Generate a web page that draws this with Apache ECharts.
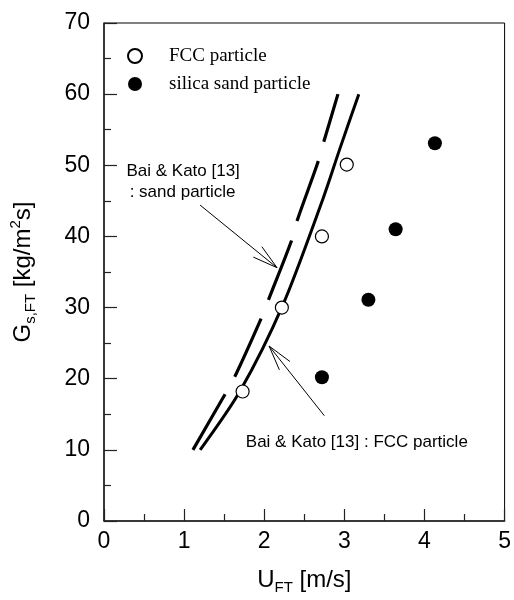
<!DOCTYPE html>
<html>
<head>
<meta charset="utf-8">
<script src="https://cdn.jsdelivr.net/npm/echarts@6.0.0/dist/echarts.min.js"></script>
<style>
  html, body { margin: 0; padding: 0; background: #fff; }
  #main { width: 514px; height: 600px; }
</style>
</head>
<body>
<div id="main"></div>
<script>
// measured points
const fccU = [1.73, 2.22, 2.72, 3.03]
const fccG = [18.2, 30.0, 40.0, 50.1]
const sandU = [2.72, 3.30, 3.64, 4.13]
const sandG = [20.2, 31.1, 41.0, 53.1]

// Bai & Kato [13] curves
const baiSandU = [1.11, 1.53, 1.65, 1.97, 2.06, 2.34, 2.41, 2.66, 2.73, 2.92]
const baiSandG = [10, 18.2, 20.7, 28.7, 31.3, 39.4, 42.2, 50.1, 52.8, 60]
const baiFccU = [1.20, 1.70, 2.23, 2.73, 2.94, 3.18]
const baiFccG = [10, 18.3, 30.3, 45.2, 52.2, 60]

// annotations (data coords)
const notes = [
  { text: 'Bai & Kato [13]', at: [0.28, 49.1] },
  { text: ': sand particle', at: [0.32, 46.2] },
  { text: 'Bai & Kato [13] : FCC particle', at: [1.77, 11.0] }
]
const arrows = [
  { from: [1.20, 44.4], to: [2.16, 35.6] },
  { from: [2.75, 14.8], to: [2.06, 24.6] }
]

function pairs (xs, ys) {
  return xs.map((x, i) => [x, ys[i]])
}

const chart = echarts.init(document.getElementById('main'))
chart.setOption({
  animation: false,
  backgroundColor: '#fff',
  grid: {
    left: 102, right: 5, top: 23, bottom: 77,
    show: true, borderColor: '#000', borderWidth: 1
  },
  legend: {
    orient: 'vertical',
    left: 122,
    top: 41,
    itemWidth: 14,
    itemHeight: 14,
    itemGap: 8,
    data: ['FCC particle', 'silica sand particle'],
    textStyle: {
      fontFamily: 'Liberation Serif',
      fontSize: 19,
      lineHeight: 20,
      color: '#000',
      padding: [0, 0, 0, 22]
    }
  },
  xAxis: {
    type: 'value',
    min: 0, max: 5, interval: 1,
    name: '{m|U}{sub|FT}{m| [m/s]}',
    nameLocation: 'middle',
    nameGap: 44,
    nameTextStyle: {
      rich: {
        m: { fontFamily: 'Liberation Sans', fontSize: 24, lineHeight: 30, color: '#000' },
        sub: { fontFamily: 'Liberation Sans', fontSize: 15, lineHeight: 15, verticalAlign: 'bottom', color: '#000' }
      }
    },
    axisLine: { onZero: false, lineStyle: { color: '#222', width: 1.5 } },
    axisTick: { inside: true, length: 12, lineStyle: { color: '#222', width: 1.2 } },
    minorTick: { show: true, splitNumber: 2, length: 7, lineStyle: { color: '#222', width: 1.2 } },
    axisLabel: { margin: 9, fontFamily: 'Liberation Sans', fontSize: 23, color: '#000' },
    splitLine: { show: false }
  },
  yAxis: {
    type: 'value',
    min: 0, max: 70, interval: 10,
    name: '{m|G}{sub|s,FT}{m| [kg/m}{sup|2}{m|s]}',
    nameLocation: 'middle',
    nameGap: 66,
    nameTextStyle: {
      rich: {
        m: { fontFamily: 'Liberation Sans', fontSize: 24, lineHeight: 30, color: '#000' },
        sub: { fontFamily: 'Liberation Sans', fontSize: 15, lineHeight: 15, verticalAlign: 'bottom', color: '#000' },
        sup: { fontFamily: 'Liberation Sans', fontSize: 15, lineHeight: 15, verticalAlign: 'top', color: '#000' }
      }
    },
    axisLine: { onZero: false, lineStyle: { color: '#222', width: 1.5 } },
    axisTick: { inside: true, length: 13, lineStyle: { color: '#222', width: 1.2 } },
    minorTick: { show: true, splitNumber: 2, length: 7, lineStyle: { color: '#222', width: 1.2 } },
    axisLabel: { margin: 14, fontFamily: 'Liberation Sans', fontSize: 23, color: '#000' },
    splitLine: { show: false }
  },
  series: [
    {
      name: 'Bai & Kato sand',
      type: 'line',
      smooth: 0.3,
      showSymbol: false,
      data: pairs(baiSandU, baiSandG),
      lineStyle: { color: '#000', width: 3.2, type: [64, 20] }
    },
    {
      name: 'Bai & Kato FCC',
      type: 'line',
      smooth: 0.3,
      showSymbol: false,
      data: pairs(baiFccU, baiFccG),
      lineStyle: { color: '#000', width: 3 }
    },
    {
      name: 'FCC particle',
      type: 'scatter',
      symbol: 'circle',
      symbolSize: 13,
      data: pairs(fccU, fccG),
      itemStyle: { color: '#fff', borderColor: '#000', borderWidth: 1.2, opacity: 1 },
      z: 5
    },
    {
      name: 'silica sand particle',
      type: 'scatter',
      symbol: 'circle',
      symbolSize: 14,
      data: pairs(sandU, sandG),
      itemStyle: { color: '#000', opacity: 1 },
      z: 5
    }
  ]
})

// text notes and arrows, placed through the axes
const graphics = []
notes.forEach(n => {
  const p = chart.convertToPixel({ gridIndex: 0 }, n.at)
  graphics.push({
    type: 'text',
    x: p[0], y: p[1],
    style: {
      text: n.text,
      font: '17px "Liberation Sans"',
      fill: '#000',
      textAlign: 'left',
      textVerticalAlign: 'middle'
    }
  })
})
arrows.forEach(a => {
  const s = chart.convertToPixel({ gridIndex: 0 }, a.from)
  const t = chart.convertToPixel({ gridIndex: 0 }, a.to)
  const ang = Math.atan2(s[1] - t[1], s[0] - t[0])
  const len = 26
  const spread = 15 * Math.PI / 180
  const b1 = [t[0] + len * Math.cos(ang + spread), t[1] + len * Math.sin(ang + spread)]
  const b2 = [t[0] + len * Math.cos(ang - spread), t[1] + len * Math.sin(ang - spread)]
  graphics.push({
    type: 'polyline',
    shape: { points: [s, t] },
    style: { stroke: '#000', lineWidth: 1, fill: null }
  })
  graphics.push({
    type: 'polyline',
    shape: { points: [b1, t, b2] },
    style: { stroke: '#000', lineWidth: 1, fill: null }
  })
})
chart.setOption({ graphic: graphics })
</script>
</body>
</html>
